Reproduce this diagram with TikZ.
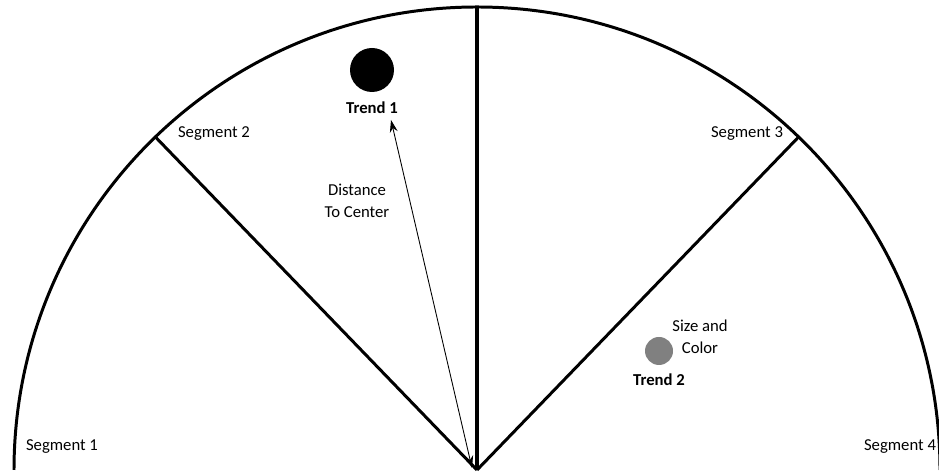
\documentclass[tikz,border=0pt]{standalone}
\usepackage{fontspec}
\setmainfont{Carlito}
\usetikzlibrary{arrows.meta}
\begin{document}
\begin{tikzpicture}[x=0.02cm,y=0.02cm,
  wedge/.style={line width=1.7pt},
  lbl/.style={font=\fontsize{9.5}{12.5}\selectfont},
  trend/.style={circle,inner sep=0pt},
  gauge/.style={line width=0.5pt,{Stealth[length=7pt,width=4.5pt]}-{Stealth[length=7pt,width=4.5pt]}}]
\def\r{463}
\useasboundingbox (0,0) rectangle (939,472);
\clip (0,0) rectangle (939,472);
\coordinate (ctr) at (477,2);
% half disc and segment borders
\draw[wedge] (ctr) ++(0:\r) arc (0:180:\r);
\draw[wedge] (ctr) -- ++(134:\r) coordinate (b12);
\draw[wedge,line width=2.2pt] (ctr) -- ++(90:\r) coordinate (b23);
\draw[wedge] (ctr) -- ++(46:\r) coordinate (b34);
% segment names
\node[lbl] (seg1) at (62,25) {Segment 1};
\node[lbl] (seg2) at (214,338) {Segment 2};
\node[lbl] (seg3) at (747,338) {Segment 3};
\node[lbl] (seg4) at (900,25) {Segment 4};
% trends
\node[trend,fill=black,minimum size=0.88cm] (t1) at (372,402) {};
\node[lbl,font=\fontsize{9.5}{12.5}\selectfont\bfseries] (t1lbl) at (372,364) {Trend 1};
\node[trend,fill={rgb,255:red,128;green,128;blue,128},minimum size=0.56cm] (t2) at (659,121) {};
\node[lbl,font=\fontsize{9.5}{12.5}\selectfont\bfseries] (t2lbl) at (659,92) {Trend 2};
\node[lbl,align=center] (sizecol) at (700,135) {Size and\\Color};
% distance
\coordinate (a1) at (391,352);
\coordinate (a2) at (472,4);
\draw[gauge] (a1) -- (a2);
\node[lbl,align=center] (dist) at (357,271) {Distance\\To Center};
\end{tikzpicture}
\end{document}
